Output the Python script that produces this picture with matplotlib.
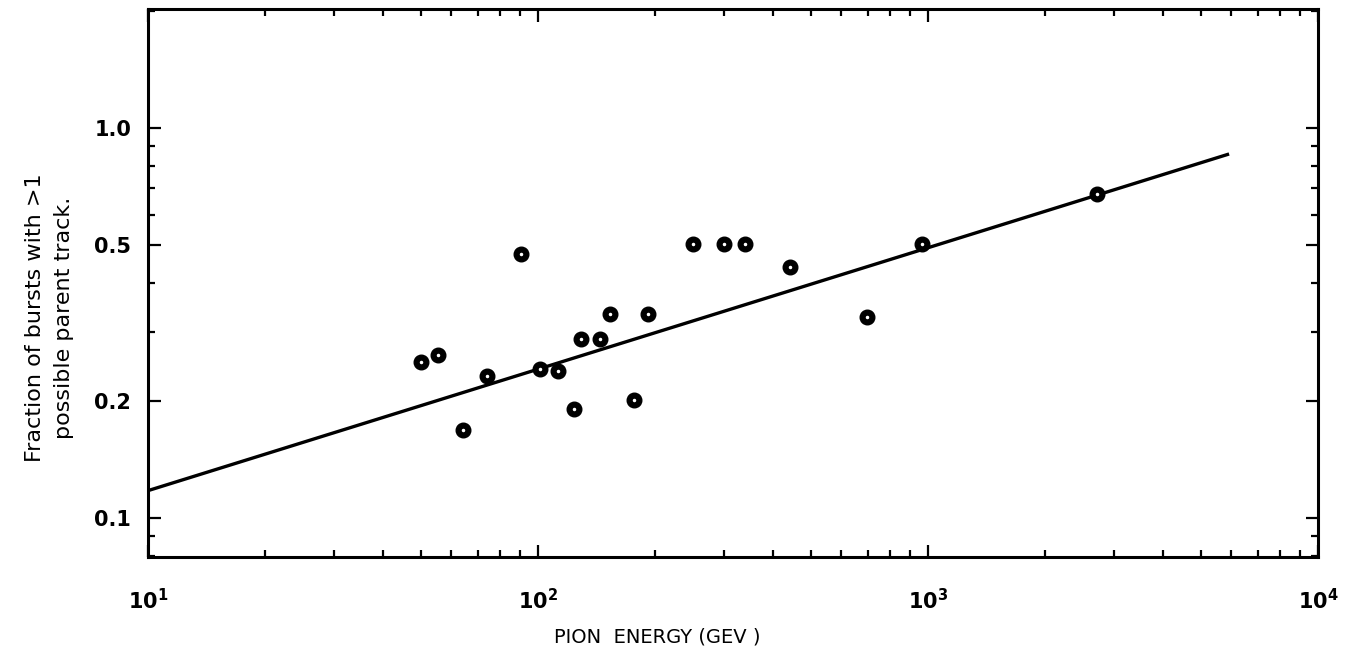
import matplotlib
matplotlib.use("Agg")
import matplotlib.pyplot as plt
from matplotlib.ticker import LogLocator, FixedLocator, FixedFormatter, NullFormatter

# Data
energy = [50.1, 55.4, 64.2, 74.0, 90.3, 101, 112.5, 123.6, 128.8, 144, 153, 176,
          191.5, 249.6, 299.7, 339.5, 442.6, 698, 966, 2711]
fraction = [0.251, 0.262, 0.168, 0.231, 0.475, 0.241, 0.238, 0.190, 0.288, 0.288,
            0.334, 0.201, 0.334, 0.504, 0.504, 0.504, 0.440, 0.328, 0.504, 0.677]
fit_x = [10, 5916]
fit_y = [0.1175, 0.858]

xticks = [10, 100, 1000, 10000]
xticklabels = [r"$\mathregular{10^1}$", r"$\mathregular{10^2}$",
               r"$\mathregular{10^3}$", r"$\mathregular{10^4}$"]
yticks = [0.1, 0.2, 0.5, 1.0]
yticklabels = ["0.1", "0.2", "0.5", "1.0"]

plt.rcParams['font.family'] = ['DejaVu Sans']
fig = plt.figure(figsize=(13.56, 6.5), dpi=100)
ax = fig.add_axes([148/1356, 1-557/650, (1318-148)/1356, (557-9)/650])

ax.plot(fit_x, fit_y, color='black', lw=2.4, solid_capstyle='butt')
ax.plot(energy, fraction, 'o', color='black', markersize=10.5, mfc='black', mec='black')
ax.plot(energy, fraction, '.', color='white', markersize=3)

ax.set_xscale('log')
ax.set_yscale('log')
ax.set_xlim(10, 10000)
ax.set_ylim(0.0794, 2.02)

ax.xaxis.set_major_locator(FixedLocator(xticks))
ax.xaxis.set_major_formatter(FixedFormatter(xticklabels))
ax.xaxis.set_minor_locator(LogLocator(base=10, subs=range(2, 10)))
ax.xaxis.set_minor_formatter(NullFormatter())
ax.yaxis.set_major_locator(FixedLocator(yticks))
ax.yaxis.set_major_formatter(FixedFormatter(yticklabels))
ax.yaxis.set_minor_locator(LogLocator(base=10, subs=range(2, 10)))
ax.yaxis.set_minor_formatter(NullFormatter())

ax.tick_params(which='both', direction='in', top=True, right=True, width=1.6, color='black')
ax.tick_params(which='major', length=9)
ax.tick_params(which='minor', length=5)
ax.tick_params(axis='x', which='major', pad=22, labelsize=15)
ax.tick_params(axis='y', which='major', pad=12, labelsize=15)
for lab in ax.get_xticklabels() + ax.get_yticklabels():
    lab.set_fontweight('bold')

for s in ax.spines.values():
    s.set_linewidth(2.2)
    s.set_color('black')

fig.text(657/1356, 1-637/650, "PION  ENERGY (GEV )", ha='center', va='center',
         fontsize=14)
fig.text(35/1356, 1-318/650, "Fraction of bursts with >1", rotation=90,
         ha='center', va='center', fontsize=16)
fig.text(64/1356, 1-318/650, "possible parent track.", rotation=90,
         ha='center', va='center', fontsize=16)

fig.savefig("out.png", dpi=100)
